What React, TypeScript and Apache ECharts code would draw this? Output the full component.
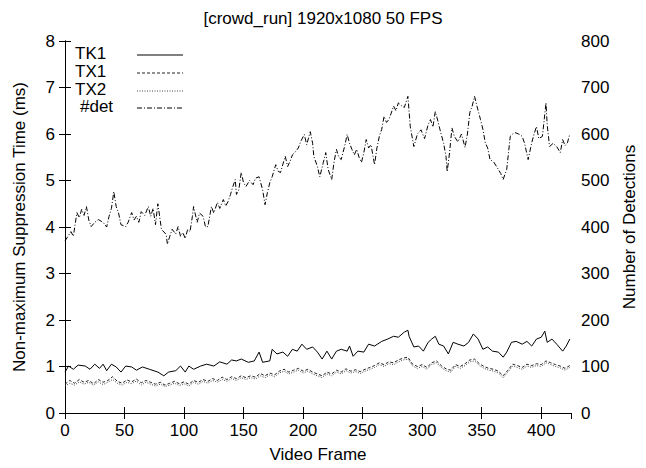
import React, { useEffect, useRef } from "react";
import * as echarts from "echarts";

const TITLE = "[crowd_run] 1920x1080 50 FPS";
const X_NAME = "Video Frame";
const Y_LEFT_NAME = "Non-maximum Suppression Time (ms)";
const Y_RIGHT_NAME = "Number of Detections";
const LEGEND_NAMES = ["TK1", "TX1", "TX2", "#det"];

const tk1Frames = [0, 3, 7, 11, 17, 21, 25, 29, 32, 35, 39, 43, 47, 51, 56, 60, 65, 71, 78, 83, 87, 93, 97, 101, 104, 108, 114, 119, 125, 130, 136, 140, 144, 148, 154, 159, 163, 166, 172, 174, 178, 183, 187, 191, 195, 199, 203, 208, 212, 216, 220, 224, 228, 232, 237, 239, 242, 246, 251, 255, 260, 266, 271, 276, 280, 285, 288, 289, 293, 297, 301, 305, 308, 311, 314, 318, 322, 326, 330, 335, 339, 343, 347, 351, 355, 359, 364, 368, 371, 375, 379, 384, 388, 392, 396, 400, 403, 405, 409, 413, 418, 421, 424];
const tk1Values = [0.88, 1.01, 0.94, 1.03, 1.01, 0.94, 1.05, 0.96, 1.05, 0.91, 1.05, 0.99, 0.88, 1.01, 0.99, 0.92, 0.99, 0.94, 0.88, 0.8, 0.88, 0.91, 1.01, 0.88, 1.01, 0.94, 1.01, 1.05, 1.01, 1.1, 1.05, 1.14, 1.12, 1.16, 1.09, 1.12, 1.31, 1.09, 1.12, 1.37, 1.27, 1.31, 1.22, 1.37, 1.33, 1.48, 1.37, 1.42, 1.31, 1.16, 1.33, 1.16, 1.33, 1.37, 1.33, 1.44, 1.22, 1.33, 1.31, 1.48, 1.44, 1.54, 1.59, 1.65, 1.63, 1.74, 1.78, 1.65, 1.42, 1.44, 1.33, 1.52, 1.59, 1.65, 1.48, 1.44, 1.27, 1.52, 1.48, 1.44, 1.52, 1.7, 1.59, 1.37, 1.42, 1.33, 1.31, 1.2, 1.31, 1.52, 1.54, 1.48, 1.54, 1.44, 1.59, 1.63, 1.76, 1.52, 1.59, 1.48, 1.33, 1.44, 1.59];

const txFrames = [0, 4, 8, 12, 16, 20, 24, 28, 32, 36, 40, 44, 48, 52, 56, 60, 64, 68, 72, 76, 80, 84, 88, 92, 96, 100, 104, 108, 112, 116, 120, 124, 128, 132, 136, 140, 144, 148, 152, 156, 160, 164, 168, 172, 176, 180, 184, 188, 192, 196, 200, 204, 208, 212, 216, 220, 224, 228, 232, 236, 240, 244, 248, 252, 256, 260, 264, 268, 272, 276, 280, 284, 288, 292, 296, 300, 304, 308, 312, 316, 320, 324, 328, 332, 336, 340, 344, 348, 352, 356, 360, 364, 368, 372, 376, 380, 384, 388, 392, 396, 400, 404, 408, 412, 416, 420, 424];
const tx1Values = [0.62, 0.7, 0.64, 0.72, 0.66, 0.7, 0.63, 0.72, 0.66, 0.7, 0.78, 0.68, 0.64, 0.71, 0.67, 0.73, 0.65, 0.7, 0.66, 0.62, 0.66, 0.6, 0.64, 0.68, 0.63, 0.67, 0.62, 0.7, 0.66, 0.72, 0.68, 0.74, 0.7, 0.77, 0.72, 0.78, 0.74, 0.8, 0.76, 0.8, 0.77, 0.85, 0.8, 0.86, 0.82, 0.9, 0.94, 0.88, 0.92, 0.96, 0.9, 0.94, 0.88, 0.84, 0.8, 0.88, 0.84, 0.92, 0.88, 0.95, 0.9, 0.93, 0.89, 0.94, 0.98, 1.02, 1.08, 1.04, 1.1, 1.08, 1.14, 1.18, 1.2, 1.05, 1.0, 1.04, 0.98, 1.08, 1.12, 1.02, 0.95, 0.92, 1.04, 1.0, 1.06, 1.14, 1.16, 1.06, 1.0, 0.96, 0.94, 0.9, 0.8, 0.92, 1.05, 1.02, 0.98, 1.05, 1.02, 1.06, 1.04, 1.12, 1.08, 1.04, 1.01, 0.96, 1.02];
const tx2Values = [0.58, 0.64, 0.6, 0.67, 0.62, 0.66, 0.6, 0.67, 0.61, 0.66, 0.72, 0.64, 0.6, 0.66, 0.63, 0.69, 0.6, 0.66, 0.62, 0.58, 0.62, 0.57, 0.6, 0.64, 0.59, 0.63, 0.58, 0.66, 0.62, 0.68, 0.64, 0.7, 0.66, 0.72, 0.68, 0.74, 0.7, 0.76, 0.72, 0.76, 0.73, 0.8, 0.76, 0.82, 0.78, 0.86, 0.9, 0.84, 0.88, 0.92, 0.86, 0.9, 0.84, 0.8, 0.76, 0.84, 0.8, 0.88, 0.84, 0.91, 0.86, 0.89, 0.85, 0.9, 0.94, 0.98, 1.04, 1.0, 1.06, 1.04, 1.1, 1.14, 1.16, 1.01, 0.96, 1.0, 0.94, 1.04, 1.08, 0.98, 0.91, 0.88, 1.0, 0.96, 1.02, 1.1, 1.12, 1.02, 0.96, 0.92, 0.9, 0.86, 0.76, 0.88, 1.01, 0.98, 0.94, 1.01, 0.98, 1.02, 1.0, 1.08, 1.04, 1.0, 0.97, 0.92, 0.98];

const detFrames = [0, 2, 5, 7, 10, 12, 14, 16, 18, 20, 22, 25, 28, 32, 35, 37, 39, 41, 43, 45, 47, 51, 53, 56, 58, 60, 62, 64, 67, 70, 72, 74, 76, 78, 81, 85, 86, 88, 90, 93, 95, 97, 99, 101, 103, 105, 107, 108, 111, 113, 116, 118, 120, 123, 125, 128, 130, 133, 135, 137, 139, 141, 143, 144, 146, 148, 150, 152, 155, 158, 160, 163, 166, 168, 170, 172, 174, 177, 179, 181, 183, 185, 187, 189, 191, 193, 196, 198, 201, 203, 206, 208, 209, 212, 214, 217, 219, 221, 224, 226, 228, 230, 232, 235, 237, 239, 241, 243, 245, 247, 249, 251, 253, 255, 257, 260, 262, 264, 266, 268, 270, 272, 274, 276, 278, 280, 283, 285, 288, 290, 293, 296, 299, 302, 305, 307, 309, 311, 313, 315, 318, 320, 321, 323, 325, 327, 330, 333, 336, 338, 340, 342, 344, 346, 349, 351, 353, 355, 357, 360, 363, 366, 368, 371, 374, 376, 378, 381, 384, 386, 389, 392, 394, 396, 398, 401, 404, 405, 407, 410, 413, 416, 418, 420, 422, 424];
const detValues = [370, 378, 390, 380, 431, 420, 438, 425, 444, 415, 401, 410, 416, 410, 400, 423, 440, 476, 444, 430, 405, 401, 410, 431, 415, 423, 410, 433, 425, 444, 423, 440, 405, 450, 395, 384, 363, 380, 395, 385, 401, 380, 388, 375, 395, 390, 423, 444, 410, 430, 423, 400, 401, 444, 430, 453, 440, 459, 445, 455, 470, 487, 502, 470, 480, 517, 495, 487, 500, 491, 505, 508, 480, 448, 474, 495, 508, 534, 520, 517, 535, 552, 530, 541, 555, 560, 570, 584, 599, 577, 605, 580, 552, 530, 508, 539, 560, 524, 502, 540, 567, 550, 545, 575, 599, 580, 567, 555, 567, 550, 539, 560, 588, 570, 577, 534, 570, 595, 610, 638, 625, 631, 645, 660, 650, 667, 660, 657, 681, 616, 573, 600, 609, 590, 620, 631, 615, 648, 630, 609, 580, 552, 519, 560, 613, 595, 583, 600, 571, 600, 646, 660, 681, 660, 631, 610, 581, 570, 545, 540, 528, 515, 502, 524, 595, 600, 603, 600, 595, 580, 545, 581, 600, 616, 590, 595, 667, 620, 573, 580, 573, 560, 588, 575, 581, 600];

const FONT = "'Liberation Sans', Arial, Helvetica, sans-serif";
const FS = 17;

function pairs(xs: number[], ys: number[]) {
  return xs.map((x, i) => [x, ys[i]]);
}

export default function App() {
  const ref = useRef<HTMLDivElement>(null);
  useEffect(() => {
    if (!ref.current) return;
    document.body.style.margin = "0";
    const chart = echarts.init(ref.current, null, { renderer: "svg" });
    const axisLine = { show: true, lineStyle: { color: "#000", width: 1 } };
    const tick = { show: true, inside: true, length: 6, lineStyle: { color: "#000", width: 1 } };
    const label = { color: "#000", fontSize: FS, fontFamily: FONT };
    const legendYs = [55, 73, 91, 108];
    const legendX = [75, 75, 75, 80];
    const legendDash: any[] = [null, [3, 2], [1, 1.5], [5, 2, 1, 2]];
    const legendColor = ["#000", "#222", "#444", "#000"];
    const graphic: any[] = [];
    LEGEND_NAMES.forEach((n, i) => {
      graphic.push({
        type: "text",
        left: legendX[i],
        top: legendYs[i] - 10,
        style: { text: n, fontSize: FS, fontFamily: FONT, fill: "#000" },
      });
      graphic.push({
        type: "line",
        shape: { x1: 137, y1: legendYs[i], x2: 183, y2: legendYs[i] },
        style: { stroke: legendColor[i], lineWidth: 1, lineDash: legendDash[i] || undefined },
      });
    });
    chart.setOption({
      animation: false,
      title: {
        text: TITLE,
        left: "center",
        top: 5,
        textStyle: { fontSize: FS, fontWeight: "normal", color: "#000", fontFamily: FONT },
      },
      grid: { left: 65, right: 69, top: 41, bottom: 54 },
      xAxis: [
        {
          type: "value",
          min: 0,
          max: 425,
          interval: 50,
          position: "bottom",
          name: X_NAME,
          nameLocation: "middle",
          nameGap: 33,
          nameTextStyle: { fontSize: FS, color: "#000", fontFamily: FONT },
          axisLine,
          axisTick: tick,
          axisLabel: { ...label, margin: 9, showMaxLabel: false },
          splitLine: { show: false },
        },
        {
          type: "value",
          min: 0,
          max: 425,
          interval: 50,
          position: "top",
          axisLine,
          axisTick: tick,
          axisLabel: { show: false },
          splitLine: { show: false },
        },
      ],
      yAxis: [
        {
          type: "value",
          min: 0,
          max: 8,
          interval: 1,
          position: "left",
          name: Y_LEFT_NAME,
          nameLocation: "middle",
          nameGap: 37,
          nameTextStyle: { fontSize: FS, color: "#000", fontFamily: FONT },
          axisLine,
          axisTick: tick,
          axisLabel: { ...label, margin: 10 },
          splitLine: { show: false },
        },
        {
          type: "value",
          min: 0,
          max: 800,
          interval: 100,
          position: "right",
          name: Y_RIGHT_NAME,
          nameLocation: "middle",
          nameGap: 50,
          nameTextStyle: { fontSize: FS, color: "#000", fontFamily: FONT },
          axisLine,
          axisTick: tick,
          axisLabel: { ...label, margin: 10 },
          splitLine: { show: false },
        },
      ],
      series: [
        {
          name: "TK1",
          type: "line",
          data: pairs(tk1Frames, tk1Values),
          showSymbol: false,
          lineStyle: { color: "#000", width: 1 },
        },
        {
          name: "TX1",
          type: "line",
          data: pairs(txFrames, tx1Values),
          showSymbol: false,
          lineStyle: { color: "#222", width: 1, type: [3, 2] },
        },
        {
          name: "TX2",
          type: "line",
          data: pairs(txFrames, tx2Values),
          showSymbol: false,
          lineStyle: { color: "#444", width: 1, type: [1, 1.5] },
        },
        {
          name: "#det",
          type: "line",
          yAxisIndex: 1,
          data: pairs(detFrames, detValues),
          showSymbol: false,
          lineStyle: { color: "#000", width: 1, type: [5, 2, 1, 2] },
        },
      ],
      graphic,
    });
    return () => chart.dispose();
  }, []);
  return <div ref={ref} style={{ width: 646, height: 468, position: "absolute", left: 0, top: 0 }} />;
}
